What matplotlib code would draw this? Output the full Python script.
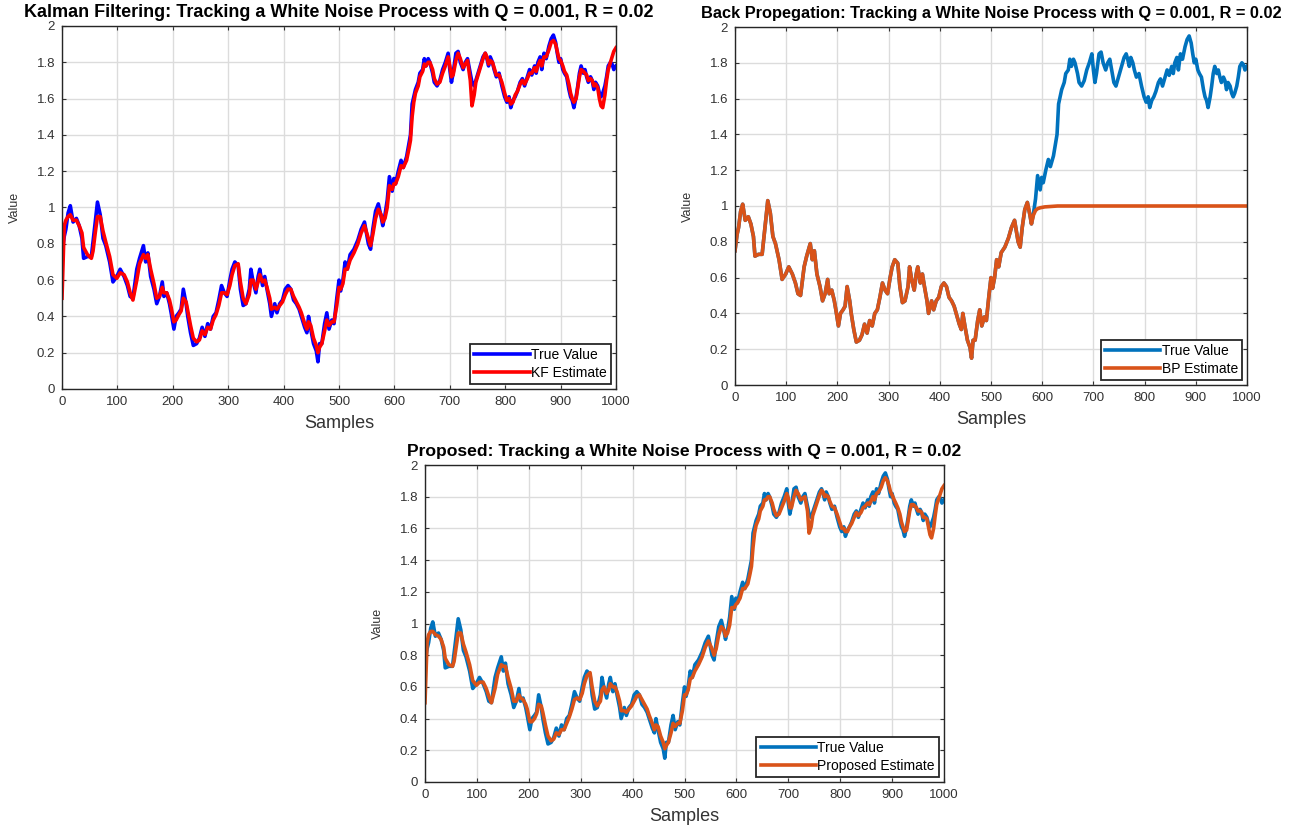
import matplotlib
matplotlib.use("Agg")
import matplotlib.pyplot as plt
import numpy as np

plt.rcParams["font.family"] = ["Liberation Sans", "DejaVu Sans"]

# Sample positions of the read-off knots (shared by all series)
samples = [
    0, 4, 7, 11, 15, 20, 26, 31, 36, 39, 46, 53, 56, 60, 64, 69, 74, 79, 86, 92,
    99, 105, 112, 118, 123, 128, 135, 140, 147, 151, 155, 160, 166, 171, 176, 181, 184, 189, 194, 197,
    202, 206, 211, 215, 219, 224, 227, 232, 237, 243, 248, 253, 258, 263, 268, 273, 278, 283, 288, 293,
    298, 303, 307, 312, 318, 322, 327, 332, 338, 341, 345, 350, 354, 357, 362, 366, 370, 375, 378, 384,
    388, 393, 398, 403, 408, 413, 418, 423, 428, 432, 438, 442, 445, 449, 454, 459, 462, 465, 469, 474,
    478, 482, 487, 491, 496, 500, 503, 507, 511, 515, 520, 527, 534, 540, 546, 553, 557, 561, 566, 571,
    576, 579, 583, 587, 591, 596, 599, 602, 607, 612, 616, 622, 626, 629, 632, 635, 638, 643, 646, 651,
    654, 657, 661, 664, 669, 672, 677, 682, 687, 692, 697, 700, 703, 706, 711, 715, 719, 724, 728, 732,
    737, 740, 744, 747, 751, 755, 760, 764, 767, 770, 773, 777, 780, 784, 789, 794, 799, 803, 807, 810,
    814, 818, 822, 827, 831, 835, 840, 844, 848, 853, 856, 859, 863, 866, 870, 874, 879, 883, 887, 891,
    894, 897, 900, 904, 907, 911, 915, 918, 921, 924, 928, 931, 934, 937, 941, 944, 947, 950, 954, 957,
    960, 963, 967, 970, 973, 976, 980, 983, 986, 990, 993, 996, 1000,
]

true_value = [
    0.75, 0.84, 0.88, 0.97, 1.01, 0.92, 0.94, 0.90, 0.83, 0.72, 0.73, 0.73, 0.81, 0.92, 1.03, 0.96, 0.83, 0.79, 0.70, 0.59,
    0.62, 0.66, 0.62, 0.57, 0.51, 0.50, 0.66, 0.72, 0.79, 0.70, 0.75, 0.62, 0.55, 0.47, 0.51, 0.59, 0.51, 0.53, 0.47, 0.42,
    0.33, 0.40, 0.42, 0.44, 0.55, 0.47, 0.40, 0.31, 0.24, 0.25, 0.28, 0.34, 0.29, 0.36, 0.33, 0.40, 0.42, 0.49, 0.57, 0.53,
    0.51, 0.60, 0.66, 0.70, 0.68, 0.55, 0.46, 0.47, 0.55, 0.66, 0.59, 0.53, 0.62, 0.66, 0.57, 0.62, 0.55, 0.47, 0.40, 0.47,
    0.42, 0.47, 0.49, 0.55, 0.57, 0.55, 0.49, 0.47, 0.44, 0.40, 0.34, 0.31, 0.40, 0.33, 0.25, 0.21, 0.15, 0.25, 0.25, 0.36,
    0.42, 0.33, 0.38, 0.36, 0.50, 0.60, 0.54, 0.60, 0.70, 0.66, 0.74, 0.77, 0.82, 0.88, 0.92, 0.80, 0.77, 0.88, 0.98, 1.02,
    0.95, 0.90, 0.96, 1.04, 1.17, 1.09, 1.16, 1.13, 1.20, 1.26, 1.22, 1.28, 1.35, 1.40, 1.57, 1.61, 1.65, 1.69, 1.74, 1.76,
    1.82, 1.78, 1.82, 1.80, 1.74, 1.69, 1.67, 1.70, 1.76, 1.80, 1.85, 1.76, 1.69, 1.74, 1.85, 1.86, 1.80, 1.76, 1.80, 1.82,
    1.74, 1.69, 1.67, 1.70, 1.74, 1.78, 1.83, 1.85, 1.82, 1.78, 1.83, 1.80, 1.76, 1.72, 1.74, 1.67, 1.61, 1.58, 1.61, 1.55,
    1.59, 1.61, 1.64, 1.69, 1.71, 1.67, 1.72, 1.76, 1.73, 1.78, 1.74, 1.80, 1.83, 1.76, 1.85, 1.82, 1.89, 1.93, 1.95, 1.91,
    1.85, 1.80, 1.82, 1.76, 1.74, 1.72, 1.65, 1.61, 1.59, 1.55, 1.61, 1.67, 1.74, 1.78, 1.74, 1.76, 1.72, 1.69, 1.72, 1.70,
    1.65, 1.69, 1.67, 1.63, 1.61, 1.63, 1.67, 1.72, 1.78, 1.80, 1.79, 1.76, 1.78,
]

kf_estimate = [
    0.50, 0.90, 0.93, 0.95, 0.96, 0.93, 0.93, 0.90, 0.86, 0.78, 0.74, 0.72, 0.76, 0.86, 0.95, 0.95, 0.87, 0.81, 0.73, 0.63,
    0.61, 0.64, 0.63, 0.59, 0.53, 0.49, 0.60, 0.69, 0.74, 0.72, 0.74, 0.66, 0.58, 0.50, 0.51, 0.56, 0.53, 0.53, 0.49, 0.45,
    0.37, 0.38, 0.41, 0.43, 0.50, 0.48, 0.43, 0.35, 0.28, 0.26, 0.27, 0.32, 0.30, 0.34, 0.33, 0.38, 0.41, 0.46, 0.53, 0.53,
    0.52, 0.57, 0.63, 0.68, 0.69, 0.59, 0.50, 0.47, 0.52, 0.60, 0.60, 0.55, 0.59, 0.63, 0.59, 0.60, 0.56, 0.50, 0.44, 0.45,
    0.44, 0.46, 0.48, 0.52, 0.55, 0.55, 0.51, 0.48, 0.45, 0.42, 0.36, 0.33, 0.37, 0.35, 0.28, 0.24, 0.20, 0.23, 0.25, 0.32,
    0.38, 0.35, 0.37, 0.37, 0.46, 0.56, 0.55, 0.58, 0.66, 0.66, 0.71, 0.75, 0.80, 0.86, 0.90, 0.83, 0.79, 0.85, 0.94, 0.99,
    0.96, 0.92, 0.94, 1.00, 1.12, 1.10, 1.13, 1.13, 1.17, 1.23, 1.22, 1.26, 1.32, 1.37, 1.50, 1.58, 1.63, 1.67, 1.72, 1.75,
    1.79, 1.78, 1.80, 1.80, 1.76, 1.71, 1.68, 1.69, 1.74, 1.78, 1.83, 1.78, 1.72, 1.73, 1.81, 1.85, 1.82, 1.77, 1.79, 1.81,
    1.70, 1.56, 1.62, 1.69, 1.73, 1.77, 1.82, 1.85, 1.83, 1.79, 1.81, 1.80, 1.77, 1.73, 1.73, 1.69, 1.63, 1.59, 1.60, 1.57,
    1.58, 1.62, 1.64, 1.68, 1.70, 1.68, 1.71, 1.74, 1.74, 1.77, 1.75, 1.78, 1.81, 1.78, 1.83, 1.83, 1.87, 1.91, 1.92, 1.90,
    1.86, 1.82, 1.81, 1.78, 1.75, 1.73, 1.68, 1.63, 1.60, 1.58, 1.60, 1.66, 1.72, 1.76, 1.75, 1.74, 1.73, 1.70, 1.71, 1.70,
    1.67, 1.68, 1.66, 1.60, 1.56, 1.55, 1.62, 1.70, 1.76, 1.80, 1.83, 1.86, 1.88,
]

proposed_estimate = [
    0.50, 0.88, 0.93, 0.95, 0.95, 0.93, 0.92, 0.90, 0.85, 0.78, 0.74, 0.73, 0.76, 0.85, 0.94, 0.94, 0.87, 0.82, 0.74, 0.64,
    0.61, 0.63, 0.63, 0.59, 0.54, 0.50, 0.59, 0.68, 0.74, 0.73, 0.73, 0.66, 0.59, 0.51, 0.51, 0.55, 0.53, 0.52, 0.49, 0.46,
    0.38, 0.38, 0.40, 0.43, 0.49, 0.48, 0.44, 0.36, 0.29, 0.26, 0.27, 0.31, 0.30, 0.33, 0.33, 0.37, 0.41, 0.46, 0.52, 0.53,
    0.52, 0.56, 0.62, 0.67, 0.69, 0.60, 0.51, 0.48, 0.51, 0.58, 0.60, 0.56, 0.58, 0.62, 0.60, 0.60, 0.57, 0.51, 0.45, 0.45,
    0.44, 0.46, 0.48, 0.51, 0.54, 0.55, 0.52, 0.49, 0.46, 0.42, 0.37, 0.33, 0.36, 0.35, 0.29, 0.25, 0.21, 0.23, 0.25, 0.31,
    0.37, 0.35, 0.37, 0.37, 0.45, 0.55, 0.55, 0.58, 0.65, 0.66, 0.70, 0.74, 0.79, 0.85, 0.89, 0.84, 0.80, 0.84, 0.93, 0.98,
    0.96, 0.92, 0.94, 0.99, 1.10, 1.10, 1.12, 1.13, 1.16, 1.22, 1.22, 1.25, 1.31, 1.36, 1.48, 1.57, 1.62, 1.66, 1.71, 1.74,
    1.78, 1.78, 1.80, 1.80, 1.76, 1.72, 1.68, 1.69, 1.73, 1.77, 1.82, 1.79, 1.73, 1.73, 1.80, 1.84, 1.82, 1.78, 1.79, 1.80,
    1.71, 1.57, 1.61, 1.68, 1.72, 1.76, 1.81, 1.84, 1.83, 1.80, 1.81, 1.80, 1.77, 1.74, 1.73, 1.69, 1.64, 1.60, 1.60, 1.58,
    1.58, 1.61, 1.63, 1.67, 1.70, 1.68, 1.70, 1.73, 1.74, 1.76, 1.75, 1.77, 1.80, 1.78, 1.82, 1.83, 1.86, 1.90, 1.92, 1.90,
    1.87, 1.83, 1.81, 1.78, 1.76, 1.73, 1.69, 1.64, 1.61, 1.58, 1.59, 1.65, 1.71, 1.75, 1.75, 1.74, 1.73, 1.71, 1.71, 1.70,
    1.67, 1.67, 1.66, 1.61, 1.56, 1.54, 1.60, 1.68, 1.75, 1.79, 1.82, 1.85, 1.87,
]

# Back-propagation estimate: follows the true value up to sample 579, then saturates
bp_split = 579
bp_tail_samples = [583, 587, 591, 596, 605, 630, 1000]
bp_tail_values = [0.95, 0.975, 0.985, 0.99, 0.995, 1.0, 1.0]

x_ticks = [0, 100, 200, 300, 400, 500, 600, 700, 800, 900, 1000]
y_ticks = [0, 0.2, 0.4, 0.6, 0.8, 1.0, 1.2, 1.4, 1.6, 1.8, 2.0]
y_tick_labels = ["0", "0.2", "0.4", "0.6", "0.8", "1", "1.2", "1.4", "1.6", "1.8", "2"]

title_tail = "Tracking a White Noise Process with Q = 0.001, R = 0.02"

matlab_blue = "#0072BD"
matlab_orange = "#D95319"
text_grey = "#333333"

fig = plt.figure(figsize=(13.07, 8.25), dpi=100)
W, H = 1307, 825


def px_axes(x0, x1, y0, y1):
    return fig.add_axes([x0 / W, 1 - y1 / H, (x1 - x0) / W, (y1 - y0) / H])


def style(ax, title, title_size):
    ax.set_xlim(0, 1000)
    ax.set_ylim(0, 2)
    ax.set_xticks(x_ticks)
    ax.set_yticks(y_ticks)
    ax.set_yticklabels(y_tick_labels)
    ax.grid(True, color="#dcdcdc", linewidth=1.0)
    ax.set_axisbelow(True)
    ax.tick_params(direction="in", top=True, right=True, labelsize=9.5,
                   colors=text_grey, length=3, width=0.8, pad=5)
    for s in ax.spines.values():
        s.set_color("#262626")
        s.set_linewidth(1.0)
    ax.set_xlabel("Samples", fontsize=13, color=text_grey, labelpad=5)
    ax.set_ylabel("Value", fontsize=9, color=text_grey, labelpad=11)
    ax.set_title(title, fontsize=title_size, fontweight="bold", pad=6.5)


def legend(ax):
    leg = ax.legend(loc="lower right", fontsize=10, handlelength=4.0,
                    handletextpad=0.1, borderaxespad=0.35, fancybox=False,
                    framealpha=1, edgecolor="#262626", labelspacing=0.3,
                    borderpad=0.3)
    leg.get_frame().set_linewidth(1.3)


lw = 2.6

# Kalman filter
ax1 = px_axes(62, 616, 26, 389)
ax1.plot(samples, true_value, color="#0000FF", linewidth=lw, label="True Value")
ax1.plot(samples, kf_estimate, color="#FF0000", linewidth=lw, label="KF Estimate")
style(ax1, "Kalman Filtering: " + title_tail, 13.0)
legend(ax1)

# Back propagation
ax2 = px_axes(735, 1247, 27, 385)
k = samples.index(bp_split) + 1
bp_samples = samples[:k] + bp_tail_samples
bp_values = true_value[:k] + bp_tail_values
ax2.plot(samples, true_value, color=matlab_blue, linewidth=lw, label="True Value")
ax2.plot(bp_samples, bp_values, color=matlab_orange, linewidth=lw, label="BP Estimate")
style(ax2, "Back Propegation: " + title_tail, 11.8)
legend(ax2)

# Proposed
ax3 = px_axes(425, 944, 465, 782)
ax3.plot(samples, true_value, color=matlab_blue, linewidth=lw, label="True Value")
ax3.plot(samples, proposed_estimate, color=matlab_orange, linewidth=lw, label="Proposed Estimate")
style(ax3, "Proposed: " + title_tail, 12.6)
legend(ax3)

fig.savefig("out.png", dpi=100)
